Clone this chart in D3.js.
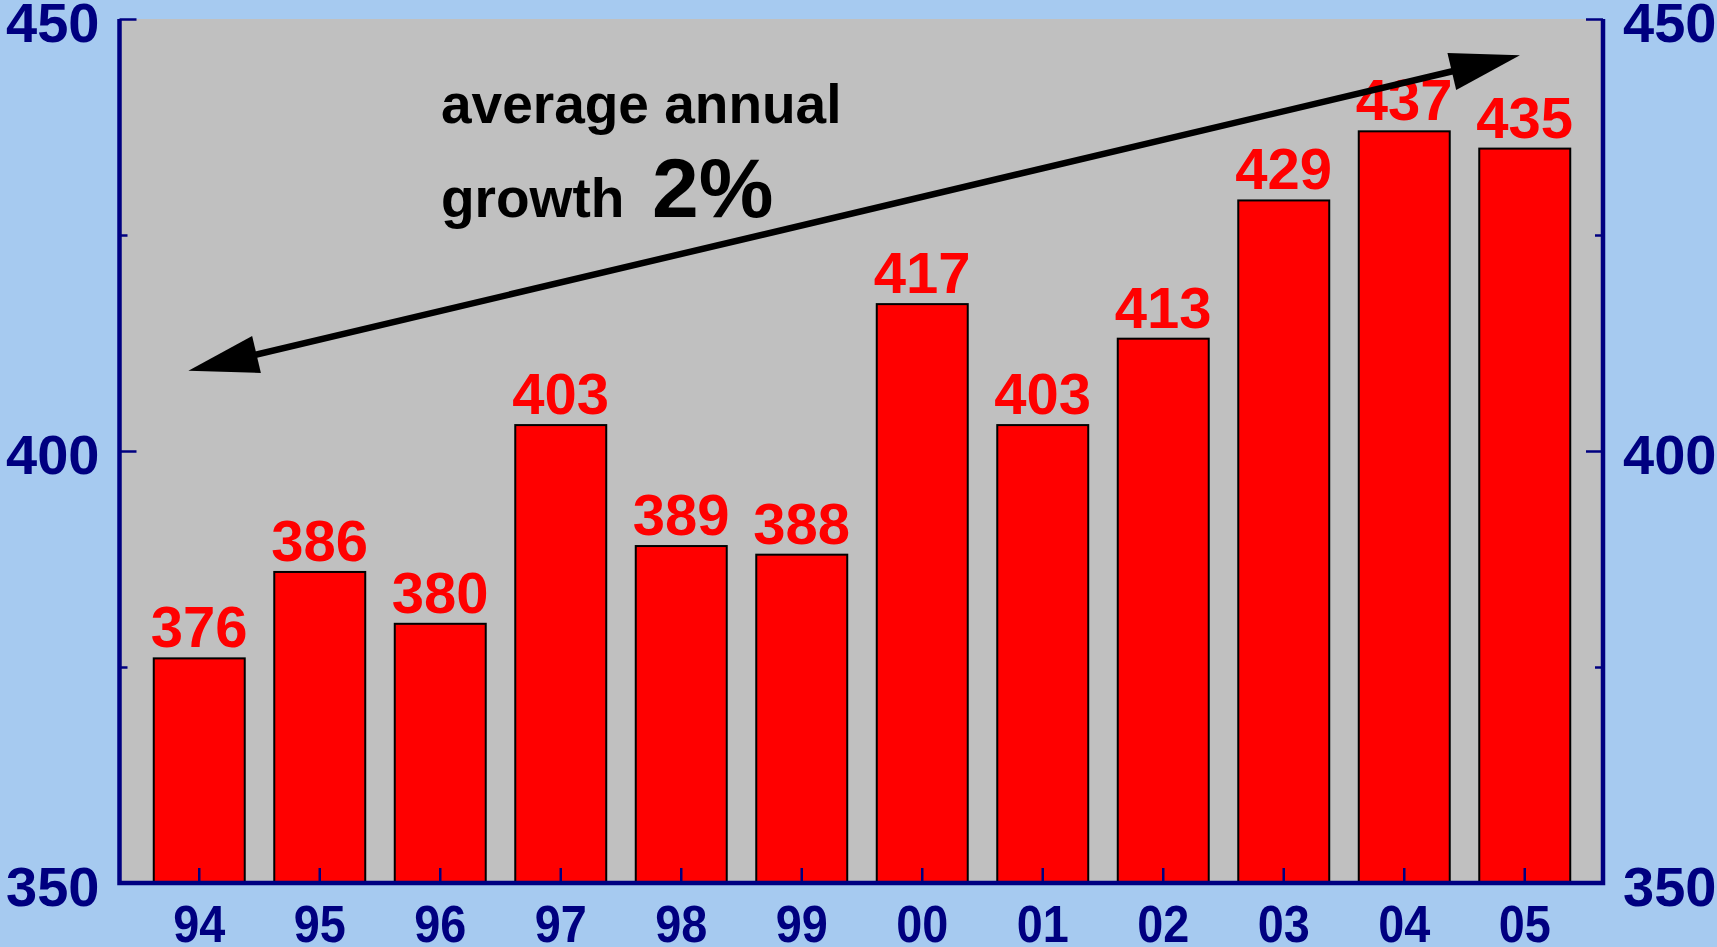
<!DOCTYPE html>
<html>
<head>
<meta charset="utf-8">
<script src="https://cdn.jsdelivr.net/npm/d3@7"></script>
<style>
	body{margin:0;background:#a6caf0;}
	svg{display:block;}
</style>
</head>
<body>
<svg id="chart" width="1717" height="947"></svg>
<script>

	// data
	var years = ["94","95","96","97","98","99","00","01","02","03","04","05"];
	var values = [376,386,380,403,389,388,417,403,413,429,437,435];
	var majorTicks = [350,400,450];
	var minorTicks = [375,425];
	// arrow ends: [bar index, value]
	var arrowEnds = [[-0.09,409.3],[10.96,445.8]];
	var noteLines = ["average annual","growth"];
	var noteValue = "2%";

	var navy = "#000080";
	var font = "'Liberation Sans', Arial, sans-serif";

	var svg = d3.select("#chart");

	var left = 119.5, right = 1603;

	var y = d3.scaleLinear()
		.domain([350,450])
		.range([883,19]);

	var x = d3.scaleBand()
		.domain(years)
		.range([139,1585])
		.paddingInner(0.245)
		.paddingOuter(0.1225);

	var bw = x.bandwidth();

	//index scale (for the arrow)
	var xi = d3.scaleLinear()
		.domain([0, years.length-1])
		.range([x(years[0]) + bw/2, x(years[years.length-1]) + bw/2]);

	//plot area
	svg.append("rect")
		.attr("x", left)
		.attr("y", y(450))
		.attr("width", right-left)
		.attr("height", y(350)-y(450))
		.attr("fill", "#c0c0c0");

	//bars
	svg.append("g")
		.selectAll("rect")
		.data(values)
		.enter()
		.append("rect")
		.attr("x", function(d,i){ return x(years[i]); })
		.attr("y", function(d){ return y(d); })
		.attr("width", bw)
		.attr("height", function(d){ return y(350) - y(d); })
		.attr("fill", "#ff0000")
		.attr("stroke", "#000")
		.attr("stroke-width", 2);

	//value labels
	svg.append("g")
		.selectAll("text")
		.data(values)
		.enter()
		.append("text")
		.attr("x", function(d,i){ return x(years[i]) + bw/2; })
		.attr("y", function(d){ return y(d) - 11; })
		.attr("text-anchor", "middle")
		.attr("font-family", font)
		.attr("font-weight", "bold")
		.attr("font-size", "58px")
		.attr("fill", "#ff0000")
		.text(function(d){ return d; });

	//axes
	function styleAxis(g){
		g.select(".domain").remove();
		g.selectAll(".tick line").attr("stroke", navy).attr("stroke-width", 2.5);
		g.selectAll("text")
			.attr("fill", navy)
			.attr("font-family", font)
			.attr("font-weight", "bold")
			.attr("font-size", "56px");
	}

	svg.append("g")
		.attr("transform", "translate(" + left + ",0)")
		.call(d3.axisLeft(y).tickValues(majorTicks).tickSize(-17).tickPadding(20).tickFormat(d3.format("d")))
		.call(styleAxis)
		.selectAll("text").attr("dy", "0.41em");

	svg.append("g")
		.attr("transform", "translate(" + left + ",0)")
		.call(d3.axisLeft(y).tickValues(minorTicks).tickSize(-8).tickFormat(""))
		.call(styleAxis);

	svg.append("g")
		.attr("transform", "translate(" + right + ",0)")
		.call(d3.axisRight(y).tickValues(majorTicks).tickSize(-17).tickPadding(20).tickFormat(d3.format("d")))
		.call(styleAxis)
		.selectAll("text").attr("dy", "0.41em");

	svg.append("g")
		.attr("transform", "translate(" + right + ",0)")
		.call(d3.axisRight(y).tickValues(minorTicks).tickSize(-8).tickFormat(""))
		.call(styleAxis);

	var xAxis = svg.append("g")
		.attr("transform", "translate(0," + y(350) + ")")
		.call(d3.axisBottom(x).tickSize(-15).tickPadding(22))
		.call(styleAxis);
	xAxis.selectAll("text")
		.attr("font-size", "52px")
		.attr("transform", "scale(0.9,1)");

	//frame
	svg.append("path")
		.attr("d", "M" + left + "," + y(450) + "V" + y(350) + "H" + right + "V" + y(450))
		.attr("fill", "none")
		.attr("stroke", navy)
		.attr("stroke-width", 4.5);

	//growth arrow
	var p0 = [xi(arrowEnds[0][0]), y(arrowEnds[0][1])];
	var p1 = [xi(arrowEnds[1][0]), y(arrowEnds[1][1])];
	var dx = p1[0]-p0[0], dy = p1[1]-p0[1];
	var len = Math.sqrt(dx*dx + dy*dy);
	var ux = dx/len, uy = dy/len;
	var headL = 70, headW = 19;

	function head(tip, dir){
		var bx = tip[0] + dir*ux*headL, by = tip[1] + dir*uy*headL;
		return [[tip[0],tip[1]], [bx - uy*headW, by + ux*headW], [bx + uy*headW, by - ux*headW]];
	}

	var arrow = svg.append("g");
	arrow.append("line")
		.attr("x1", p0[0] + ux*(headL-5))
		.attr("y1", p0[1] + uy*(headL-5))
		.attr("x2", p1[0] - ux*(headL-5))
		.attr("y2", p1[1] - uy*(headL-5))
		.attr("stroke", "#000")
		.attr("stroke-width", 6.5);
	arrow.selectAll("polygon")
		.data([head(p0,1), head(p1,-1)])
		.enter()
		.append("polygon")
		.attr("points", function(d){ return d.map(function(p){ return p.join(","); }).join(" "); })
		.attr("fill", "#000");

	//annotation text
	var note = svg.append("g")
		.attr("font-family", font)
		.attr("font-weight", "bold")
		.attr("fill", "#000");
	note.append("text")
		.attr("x", 441)
		.attr("y", 123)
		.attr("font-size", "55px")
		.text(noteLines[0]);
	note.append("text")
		.attr("x", 441)
		.attr("y", 217)
		.attr("font-size", "55px")
		.text(noteLines[1]);
	note.append("text")
		.attr("x", 652)
		.attr("y", 217)
		.attr("font-size", "84px")
		.text(noteValue);

</script>
</body>
</html>
